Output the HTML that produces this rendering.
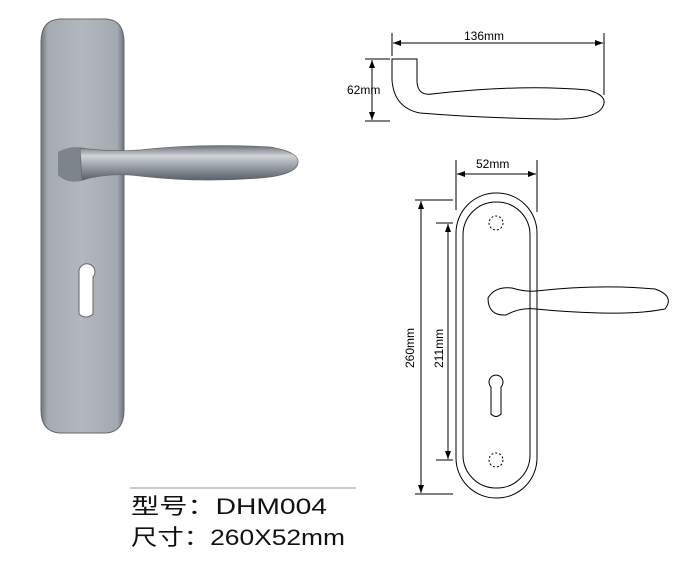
<!DOCTYPE html>
<html><head><style>body{margin:0;background:#fff;width:682px;height:567px;overflow:hidden}</style></head><body>
<svg width="682" height="567" xmlns="http://www.w3.org/2000/svg" font-family="Liberation Sans, sans-serif">
<defs>
<linearGradient id="pl" x1="0" x2="1"><stop offset="0" stop-color="#6d747d"/><stop offset="0.08" stop-color="#a5abb2"/><stop offset="0.5" stop-color="#b3b8be"/><stop offset="0.92" stop-color="#a3a9b0"/><stop offset="1" stop-color="#6d747d"/></linearGradient>
<linearGradient id="hd" x1="0" y1="0" x2="0" y2="1"><stop offset="0" stop-color="#6a7079"/><stop offset="0.3" stop-color="#d0d4d8"/><stop offset="0.6" stop-color="#9aa0a8"/><stop offset="1" stop-color="#5a6068"/></linearGradient>
<marker id="a" markerWidth="8" markerHeight="6" refX="8" refY="3" orient="auto-start-reverse"><path d="M0,0L8,3L0,6z" fill="#000"/></marker>
</defs>
<path d="M41,42 Q41,20 60,19 L106,19 Q124,20 124,42 L124,410 Q124,432 106,433 L60,433 Q41,432 41,410Z" fill="url(#pl)" stroke="#666"/>
<path d="M79,273 a8,8 0 1 1 14,4 L93,314 Q86,320 79,314 L79,277 Z" fill="#fff" stroke="#666"/>
<path d="M58,152 Q70,145 85,148 L85,180 Q68,185 58,175Z" fill="#7d848c"/>
<path d="M80,148 Q110,152 140,150 Q200,143 270,147 Q300,152 298,163 Q296,175 260,178 Q200,183 140,176 Q110,172 82,180Z" fill="url(#hd)" stroke="#666" stroke-width="0.7"/>
<g stroke="#000" stroke-width="1" fill="none">
<line x1="392" y1="33" x2="392" y2="56"/><line x1="604" y1="33" x2="604" y2="95"/>
<line x1="393" y1="43" x2="603" y2="43" marker-start="url(#a)" marker-end="url(#a)"/>
<line x1="365" y1="59" x2="390" y2="59"/><line x1="365" y1="121" x2="390" y2="121"/>
<line x1="372" y1="60" x2="372" y2="120" marker-start="url(#a)" marker-end="url(#a)"/>
<path d="M392,59 L417,59 L417,82 Q418,96 432,94 Q520,84 588,90 Q610,96 602,108 Q594,120 550,119 Q480,118 420,113 Q394,108 392,80 Z"/>
<rect x="456" y="193" width="81" height="305" rx="40" ry="40"/>
<rect x="463" y="202" width="67" height="286" rx="33" ry="33"/>
<line x1="456" y1="160" x2="456" y2="210"/><line x1="537" y1="160" x2="537" y2="212"/>
<line x1="457" y1="174" x2="536" y2="174" marker-start="url(#a)" marker-end="url(#a)"/>
<line x1="415" y1="200" x2="453" y2="200"/><line x1="415" y1="494" x2="453" y2="494"/>
<line x1="421" y1="201" x2="421" y2="493" marker-start="url(#a)" marker-end="url(#a)"/>
<line x1="436" y1="223" x2="453" y2="223"/><line x1="436" y1="460" x2="453" y2="460"/>
<line x1="448" y1="224" x2="448" y2="459" marker-start="url(#a)" marker-end="url(#a)"/>
<circle cx="496" cy="223" r="7" stroke-dasharray="2,2"/>
<circle cx="496" cy="460" r="7" stroke-dasharray="2,2"/>
<path d="M491,387 a7,7 0 1 1 10,0 L501,414 Q496,419 491,414 Z"/>
<path d="M536,291 Q600,284 655,289 Q675,296 665,309 Q640,314 600,313 Q565,312 536,309 Q520,307 506,315 Q488,316 488,298 Q495,286 512,288 Q525,292 536,291Z"/>
<line x1="130" y1="488" x2="356" y2="488" stroke="#999"/>
</g>
<g font-size="12" fill="#000">
<text x="464" y="40">136mm</text>
<text x="347" y="94">62mm</text>
<text x="476" y="168">52mm</text>
<text transform="translate(414,368) rotate(-90)">260mm</text>
<text transform="translate(443,368) rotate(-90)">211mm</text>
</g>
<g font-size="22" fill="#111" font-family="Liberation Sans, Noto Sans CJK SC, sans-serif">
<text x="131" y="514" textLength="196" lengthAdjust="spacingAndGlyphs">型号：DHM004</text>
<text x="131" y="545" textLength="214" lengthAdjust="spacingAndGlyphs">尺寸：260X52mm</text>
</g>
</svg>
</body></html>
